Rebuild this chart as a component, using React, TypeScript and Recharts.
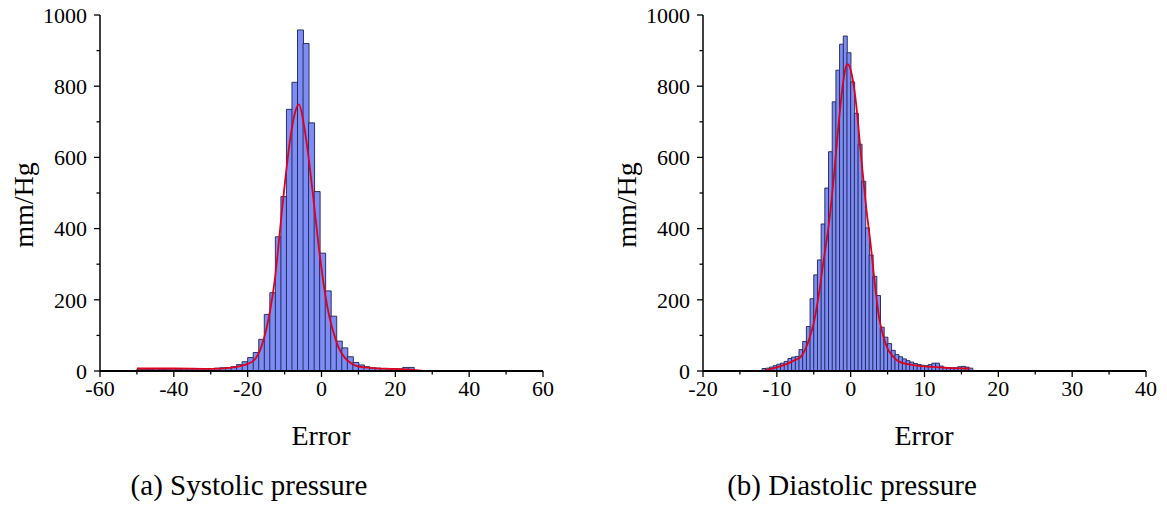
import { ComposedChart, Bar, Line, XAxis, YAxis } from "recharts"

// (a) systolic: histogram bin centres (width 1.5) and counts
const sysBins = [
  -49.25, -47.75, -46.25, -44.75, -43.25, -41.75, -40.25, -38.75, -37.25, -35.75,
  -34.25, -32.75, -31.25, -29.75, -28.25, -26.75, -25.25, -23.75, -22.25, -20.75,
  -19.25, -17.75, -16.25, -14.75, -13.25, -11.75, -10.25, -8.75, -7.25, -5.75,
  -4.25, -2.75, -1.25, 0.25, 1.75, 3.25, 4.75, 6.25, 7.75, 9.25,
  10.75, 12.25, 13.75, 15.25, 16.75, 18.25, 19.75, 21.25, 22.75, 24.25,
]
const sysCounts = [
  5, 5, 5, 6, 5, 5, 6, 5, 6, 6,
  6, 7, 7, 7, 8, 9, 10, 12, 18, 26,
  38, 52, 89, 159, 220, 377, 490, 735, 811, 958,
  920, 697, 504, 331, 225, 154, 84, 65, 40, 24,
  17, 12, 9, 8, 7, 6, 6, 6, 10, 10,
]
// fitted curve
const sysFitX = [
  -50, -40, -30, -25, -22, -20, -18, -16.5, -15, -14, -12.6, -11.2, -9.9, -8.5, -7.2,
  -6.1, -4.9, -3.6, -2.2, -0.85, 0.5, 1.85, 3.2, 4.55, 6.4, 8, 9.6, 13.2, 19.5, 24, 27.2,
]
const sysFitY = [
  7, 7, 6, 9, 14, 20, 33, 62, 115, 165, 260, 400, 530, 650, 725,
  749, 700, 608, 485, 358, 250, 166, 110, 68, 36, 22, 14, 9, 6, 4, 1,
]

// (b) diastolic: bin centres (width 0.5) and counts
const diaBins = [
  -11.75, -11.25, -10.75, -10.25, -9.75, -9.25, -8.75, -8.25, -7.75, -7.25,
  -6.75, -6.25, -5.75, -5.25, -4.75, -4.25, -3.75, -3.25, -2.75, -2.25,
  -1.75, -1.25, -0.75, -0.25, 0.25, 0.75, 1.25, 1.75, 2.25, 2.75,
  3.25, 3.75, 4.25, 4.75, 5.25, 5.75, 6.25, 6.75, 7.25, 7.75,
  8.25, 8.75, 9.25, 9.75, 10.25, 10.75, 11.25, 11.75, 12.25, 12.75,
  13.25, 13.75, 14.25, 14.75, 15.25, 15.75, 16.25,
]
const diaCounts = [
  7, 8, 11, 15, 19, 22, 27, 35, 39, 41,
  60, 83, 125, 203, 270, 312, 413, 514, 616, 756,
  845, 918, 941, 894, 812, 724, 637, 533, 402, 326,
  266, 212, 123, 95, 77, 58, 46, 40, 34, 29,
  25, 21, 18, 16, 15, 18, 22, 22, 14, 10,
  9, 9, 9, 12, 13, 11, 8,
]
const diaFitX = [
  -11.7, -10.8, -9.9, -9, -8.1, -7.4, -6.8, -6.1, -5.6, -5, -4.35, -3.65, -2.95, -2.3,
  -1.65, -1.05, -0.6, -0.4, 0.1, 0.6, 1.5, 2.1, 2.7, 3.3, 3.85, 4.4, 5, 5.7, 6.5, 8.3,
  10.5, 13, 16.1,
]
const diaFitY = [
  1, 6, 11, 17, 25, 32, 39, 63, 91, 135, 210, 312, 413, 540,
  690, 806, 857, 862, 838, 775, 585, 460, 357, 240, 150, 100, 63, 42, 27, 17,
  12, 9, 7,
]

// major ticks get a label, minor ticks only a short mark
const yTicks = [0, 200, 400, 600, 800, 1000]
const yMinor = [100, 300, 500, 700, 900]
const sysTicks = [-60, -40, -20, 0, 20, 40, 60]
const sysMinor = [-50, -30, -10, 10, 30, 50]
const diaTicks = [-20, -10, 0, 10, 20, 30, 40]
const diaMinor = [-15, -5, 5, 15, 25, 35]

const FONT = "'Liberation Serif', 'Times New Roman', serif"

function XTick(props: any) {
  const { x, y, payload, majors } = props
  const major = majors.includes(payload.value)
  return (
    <g>
      <line x1={x} x2={x} y1={y} y2={y + (major ? 6 : 3.5)} stroke="#000" strokeWidth={1.3} />
      {major && (
        <text x={x} y={y + 9} dy="0.71em" textAnchor="middle" fill="#000" fontSize={22} fontFamily={FONT}>
          {payload.value}
        </text>
      )}
    </g>
  )
}

function YTick(props: any) {
  const { x, y, payload } = props
  const major = yTicks.includes(payload.value)
  return (
    <g>
      <line x1={x - (major ? 6 : 3.5)} x2={x} y1={y} y2={y} stroke="#000" strokeWidth={1.3} />
      {major && (
        <text x={x - 13} y={y} dy="0.355em" textAnchor="end" fill="#000" fontSize={22} fontFamily={FONT}>
          {payload.value}
        </text>
      )}
    </g>
  )
}

interface PanelProps {
  left: number
  bins: number[]
  counts: number[]
  fitX: number[]
  fitY: number[]
  domain: [number, number]
  ticks: number[]
  minor: number[]
  caption: string
}

function Panel({ left, bins, counts, fitX, fitY, domain, ticks, minor, caption }: PanelProps) {
  const rows = bins.map((x, i) => ({ x, count: counts[i] }))
  const fitRows = fitX.map((x, i) => ({ fx: x, fit: fitY[i] }))
  const allX = [...ticks, ...minor].sort((a, b) => a - b)
  const allY = [...yTicks, ...yMinor].sort((a, b) => a - b)
  return (
    <div style={{ position: "absolute", left, top: 0, width: 600, height: 508 }}>
      <ComposedChart
        width={560}
        height={420}
        data={rows}
        margin={{ top: 15, right: 17, left: 40, bottom: 9 }}
        barCategoryGap={0}
        barGap={0}
      >
        <XAxis
          xAxisId="main"
          dataKey="x"
          type="number"
          domain={domain}
          ticks={allX}
          interval={0}
          height={40}
          tickSize={0}
          tickMargin={0}
          axisLine={{ stroke: "#000", strokeWidth: 1.8 }}
          tickLine={false}
          tick={<XTick majors={ticks} />}
        />
        <XAxis xAxisId="fit" dataKey="fx" type="number" domain={domain} height={0} hide />
        <YAxis
          yAxisId="main"
          type="number"
          domain={[0, 1000]}
          ticks={allY}
          interval={0}
          width={60}
          tickSize={0}
          tickMargin={0}
          axisLine={{ stroke: "#000", strokeWidth: 1.5 }}
          tickLine={false}
          tick={<YTick />}
        />
        <Bar
          xAxisId="main"
          yAxisId="main"
          dataKey="count"
          fill="#7d8df5"
          stroke="#1e2450"
          strokeWidth={0.9}
          isAnimationActive={false}
        />
        <Line
          data={fitRows}
          xAxisId="fit"
          yAxisId="main"
          dataKey="fit"
          type="monotone"
          stroke="#e0001b"
          strokeWidth={1.8}
          dot={false}
          isAnimationActive={false}
        />
      </ComposedChart>
      <div
        style={{
          position: "absolute", left: 24 - 60, top: 205 - 16, width: 120, height: 32,
          lineHeight: "32px", textAlign: "center", fontFamily: FONT, fontSize: 28,
          transform: "rotate(-90deg)",
        }}
      >
        mm/Hg
      </div>
      <div
        style={{
          position: "absolute", left: 321 - 100, top: 436 - 16, width: 200, height: 32,
          lineHeight: "32px", textAlign: "center", fontFamily: FONT, fontSize: 28,
        }}
      >
        Error
      </div>
      <div
        style={{
          position: "absolute", left: 249 - 200, top: 485 - 17, width: 400, height: 34,
          lineHeight: "34px", textAlign: "center", fontFamily: FONT, fontSize: 29,
        }}
      >
        {caption}
      </div>
    </div>
  )
}

export default function App() {
  return (
    <div style={{ position: "absolute", left: 0, top: 0, width: 1167, height: 508, background: "#fff" }}>
      <Panel
        left={0}
        bins={sysBins}
        counts={sysCounts}
        fitX={sysFitX}
        fitY={sysFitY}
        domain={[-60, 60]}
        ticks={sysTicks}
        minor={sysMinor}
        caption="(a) Systolic pressure"
      />
      <Panel
        left={603}
        bins={diaBins}
        counts={diaCounts}
        fitX={diaFitX}
        fitY={diaFitY}
        domain={[-20, 40]}
        ticks={diaTicks}
        minor={diaMinor}
        caption="(b) Diastolic pressure"
      />
    </div>
  )
}
